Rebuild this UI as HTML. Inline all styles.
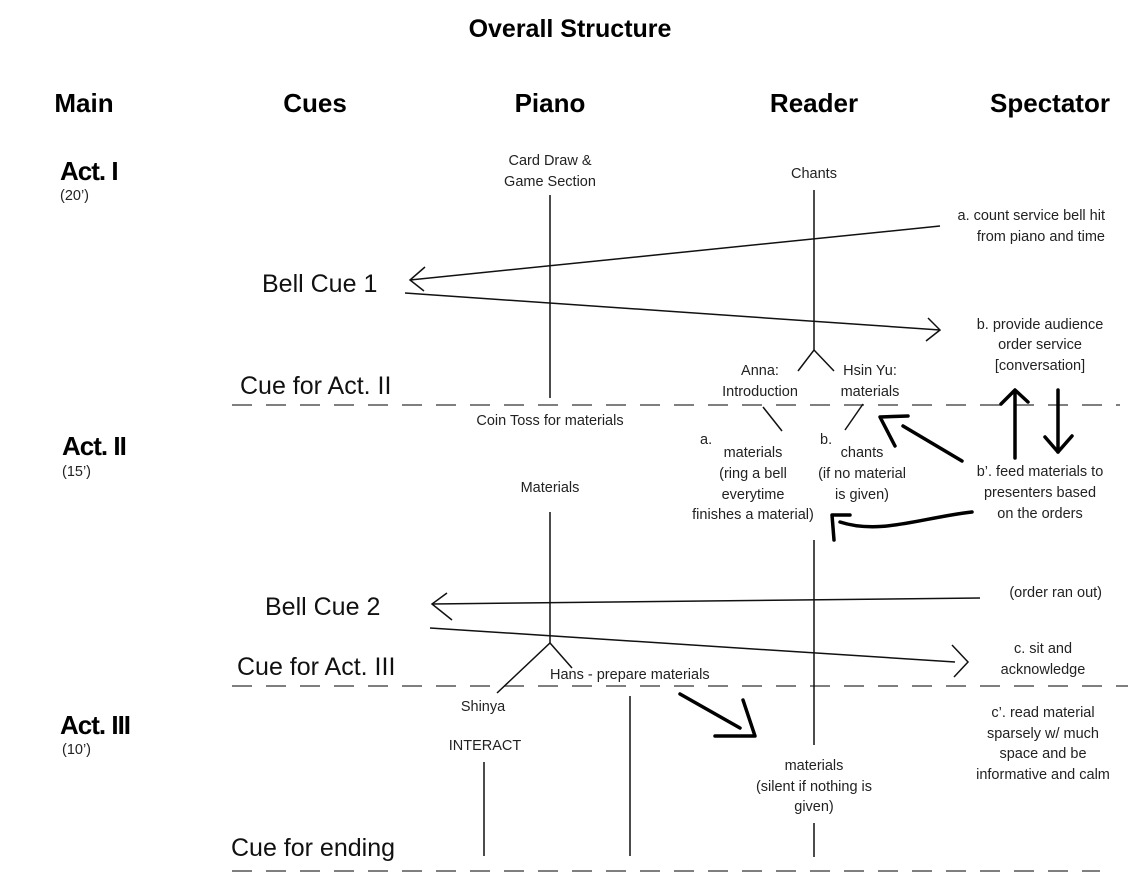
<!DOCTYPE html>
<html><head><meta charset="utf-8"><style>
html,body{margin:0;padding:0;background:#fff;}
svg{display:block;font-family:"Liberation Sans",sans-serif;}
.s{font-size:14.5px;fill:#222;}
.h{font-size:26px;font-weight:bold;fill:#000;}
.c{font-size:25px;fill:#111;}
</style></head><body>
<svg width="1138" height="881" viewBox="0 0 1138 881" xmlns="http://www.w3.org/2000/svg">
<text x="570" y="37" text-anchor="middle" class="h" style="font-size:25px">Overall Structure</text>
<g class="h" text-anchor="middle">
<text x="84" y="112">Main</text><text x="315" y="112">Cues</text><text x="550" y="112">Piano</text><text x="814" y="112">Reader</text><text x="1050" y="112">Spectator</text>
</g>
<text x="60" y="180" class="h" style="letter-spacing:-1px">Act. I</text>
<text x="60" y="200" class="s">(20’)</text>
<text x="62" y="455" class="h" style="letter-spacing:-1px">Act. II</text>
<text x="62" y="476" class="s">(15’)</text>
<text x="60" y="734" class="h" style="letter-spacing:-1px">Act. III</text>
<text x="62" y="754" class="s">(10’)</text>
<text x="262" y="292" class="c">Bell Cue 1</text>
<text x="240" y="394" class="c">Cue for Act. II</text>
<text x="265" y="615" class="c">Bell Cue 2</text>
<text x="237" y="675" class="c">Cue for Act. III</text>
<text x="231" y="856" class="c">Cue for ending</text>
<g stroke="#555" stroke-width="1.5" stroke-dasharray="20,14">
<line x1="232" y1="405" x2="1120" y2="405"/><line x1="232" y1="686" x2="1128" y2="686"/><line x1="232" y1="871" x2="1100" y2="871"/>
</g>
<g class="s" text-anchor="middle">
<text x="550" y="165">Card Draw &amp;</text><text x="550" y="186">Game Section</text>
<text x="814" y="178">Chants</text>
<text x="760" y="375">Anna:</text><text x="760" y="396">Introduction</text>
<text x="870" y="375">Hsin Yu:</text><text x="870" y="396">materials</text>
<text x="550" y="425">Coin Toss for materials</text>
<text x="550" y="492">Materials</text>
<text x="753" y="457">materials</text><text x="753" y="478">(ring a bell</text><text x="753" y="499">everytime</text><text x="753" y="519">finishes a material)</text>
<text x="862" y="457">chants</text><text x="862" y="478">(if no  material</text><text x="862" y="499">is given)</text>
<text x="1040" y="329">b. provide audience</text><text x="1040" y="349">order service</text><text x="1040" y="370">[conversation]</text>
<text x="1040" y="476">b’. feed materials to</text><text x="1040" y="497">presenters based</text><text x="1040" y="518">on the orders</text>
<text x="1043" y="653">c. sit and</text><text x="1043" y="674">acknowledge</text>
<text x="1043" y="717">c’. read material</text><text x="1043" y="738">sparsely w/ much</text><text x="1043" y="758">space and be</text><text x="1043" y="779">informative and calm</text>
<text x="483" y="711">Shinya</text>
<text x="485" y="750">INTERACT</text>
<text x="814" y="770">materials</text><text x="814" y="791">(silent if nothing is</text><text x="814" y="811">given)</text>
</g>
<text x="550" y="679" class="s">Hans - prepare materials</text>
<g class="s" text-anchor="end">
<text x="1105" y="220">a. count service bell hit</text><text x="1105" y="241">from piano and time</text>
<text x="1102" y="597">(order ran out)</text>
</g>
<text x="700" y="444" class="s">a.</text><text x="820" y="444" class="s">b.</text>
<g stroke="#111" stroke-width="1.5" fill="none">
<line x1="550" y1="195" x2="550" y2="398"/>
<line x1="814" y1="190" x2="814" y2="350"/>
<polyline points="798,371 814,350 834,371"/>
<line x1="940" y1="226" x2="410" y2="280"/><polyline points="425,267 410,280 424,291"/>
<line x1="405" y1="293" x2="940" y2="330"/><polyline points="928,318 940,330 926,341"/>
<line x1="763" y1="407" x2="782" y2="431"/><line x1="863" y1="404" x2="845" y2="430"/>
<line x1="550" y1="512" x2="550" y2="643"/>
<polyline points="497,693 550,643 572,668"/>
<line x1="814" y1="540" x2="814" y2="745"/><line x1="814" y1="823" x2="814" y2="857"/>
<line x1="980" y1="598" x2="432" y2="604"/><polyline points="447,593 432,604 452,620"/>
<line x1="430" y1="628" x2="955" y2="662"/><polyline points="952,645 968,662 954,677"/>
<line x1="484" y1="762" x2="484" y2="856"/><line x1="630" y1="696" x2="630" y2="856"/>
</g>
<g stroke="#000" stroke-width="3.5" fill="none" stroke-linecap="round" stroke-linejoin="round">
<line x1="1015" y1="458" x2="1015" y2="392"/><polyline points="1001,404 1015,390 1028,402"/>
<line x1="1058" y1="390" x2="1058" y2="452"/><polyline points="1045,437 1058,452 1072,436"/>
<line x1="962" y1="461" x2="903" y2="426"/><polyline points="908,416 880,417 895,446"/>
<path d="M972,512 C920,518 880,535 840,522"/><polyline points="850,515 832,515 834,540"/>
<line x1="680" y1="694" x2="740" y2="728"/><polyline points="715,736 755,736 743,700"/>
</g>
</svg>
</body></html>
